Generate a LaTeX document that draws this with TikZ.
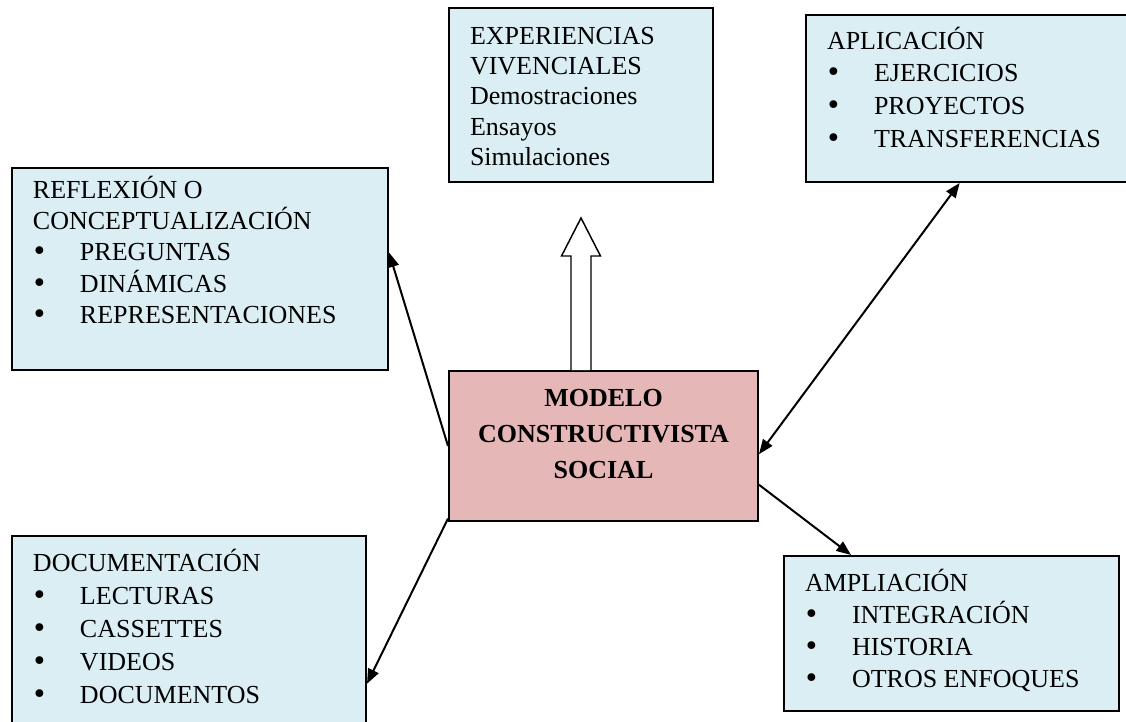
\documentclass[tikz,border=0pt]{standalone}
\usepackage{fontspec}
\setmainfont{Liberation Serif}
\newfontfamily\vinetafont{DejaVu Sans}
\usetikzlibrary{arrows.meta}

\definecolor{celeste}{RGB}{218,238,243}
\definecolor{rosado}{RGB}{229,184,183}

% width, height, first baseline, text
\newcommand{\cajatexto}[4]{\begin{minipage}[t][#2][t]{#1}\leftskip=15.75pt\rule{0pt}{#3}#4\end{minipage}}
\newcommand{\vineta}[1]{\\\makebox[35.25pt][l]{\hspace*{-1pt}{\vinetafont\fontsize{20}{0}\selectfont•}}#1}

\begin{document}
\begin{tikzpicture}[x=0.75pt,y=0.75pt,yscale=-1,xscale=1,
  punta/.tip={Triangle[length=11pt,width=8.5pt]},
  caja/.style={draw=black,line width=1.5pt,fill=celeste,inner sep=0pt,anchor=north west,font=\fontsize{19.5}{24}\selectfont},
  conector/.style={line width=1.5pt,-punta},
  doble/.style={line width=1.5pt,punta-punta},
  bloque/.style={draw=black,line width=1.1pt,fill=white}]
%set diagram left start at 0, and has height of 721
\useasboundingbox (0,0) rectangle (1126,721);

%Shape: Rectangle
% Text Node
\node[caja,font=\fontsize{19.5}{22.75}\selectfont] (experiencias) at (448,7) {\cajatexto{198pt}{130.5pt}{27pt}{EXPERIENCIAS\\VIVENCIALES\\Demostraciones\\Ensayos\\Simulaciones}};
% Text Node
\node[caja,font=\fontsize{19.5}{24.5}\selectfont] (aplicacion) at (805,14) {\cajatexto{243.75pt}{125.25pt}{25.5pt}{APLICACIÓN\vineta{EJERCICIOS}\vineta{PROYECTOS}\vineta{TRANSFERENCIAS}}};
% Text Node
\node[caja,font=\fontsize{19.5}{23.6}\selectfont] (reflexion) at (11,167) {\cajatexto{282pt}{151.5pt}{22.5pt}{REFLEXIÓN O\\CONCEPTUALIZACIÓN\vineta{PREGUNTAS}\vineta{DINÁMICAS}\vineta{REPRESENTACIONES}}};
% Text Node
\node[caja,fill=rosado,font=\fontsize{19.5}{27}\selectfont\bfseries] (modelo) at (448,370) {\begin{minipage}[t][112.5pt][t]{231.75pt}\centering\rule{0pt}{26.25pt}MODELO\\CONSTRUCTIVISTA\\SOCIAL\end{minipage}};
% Text Node
\node[caja,font=\fontsize{19.5}{24.75}\selectfont] (documentacion) at (11,535) {\cajatexto{265.5pt}{150pt}{26.25pt}{DOCUMENTACIÓN\vineta{LECTURAS}\vineta{CASSETTES}\vineta{VIDEOS}\vineta{DOCUMENTOS}}};
% Text Node
\node[caja] (ampliacion) at (783,555) {\cajatexto{251.25pt}{116.25pt}{26.25pt}{AMPLIACIÓN\vineta{INTEGRACIÓN}\vineta{HISTORIA}\vineta{OTROS ENFOQUES}}};

%Shape: Up Arrow
\coordinate (base) at (experiencias.south |- modelo.north);
\draw[bloque] (base) ++(-10,0) -- ++(0,-114) -- ++(-9.5,0) -- ++(19.5,-38) -- ++(19.5,38) -- ++(-9.5,0) -- ++(0,114);

%Straight Lines
\draw[conector] (modelo.west) -- (reflexion.5);
\draw[conector] (modelo.205) -- (documentacion.-15);
\draw[doble] (modelo.-3) -- (aplicacion.264);
\draw[conector] (modelo.-14) -- (ampliacion.142);

\end{tikzpicture}
\end{document}
